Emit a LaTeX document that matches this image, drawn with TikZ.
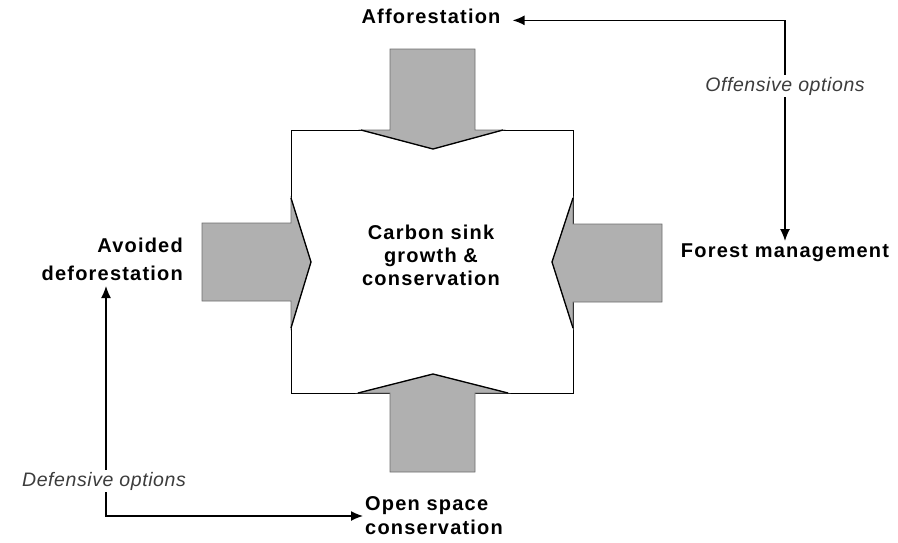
\documentclass[tikz,border=0pt]{standalone}
\usepackage{fontspec}
\setmainfont{Liberation Sans}
\newfontfamily\labelfont[LetterSpace=6]{Liberation Sans}
\newfontfamily\optionfont[LetterSpace=3]{Liberation Sans}
\usetikzlibrary{arrows.meta}

\definecolor{shaftgray}{RGB}{176,176,176}
\definecolor{edgegray}{RGB}{110,110,110}
\definecolor{optgray}{RGB}{60,60,60}

\begin{document}
\begin{tikzpicture}[x=1pt,y=-1pt,
  lbl/.style={font=\labelfont\bfseries\fontsize{20}{23}\selectfont, inner sep=2pt},
  opt/.style={font=\optionfont\itshape\fontsize{19.5}{22}\selectfont, text=optgray,
              fill=white, inner sep=1.5pt},
  dual/.style={line width=1.4pt,
               {Latex[length=12pt,width=10pt]}-{Latex[length=12pt,width=10pt]}},
  fat/.style={fill=shaftgray, draw=edgegray, line width=0.7pt, line join=miter},
  headedge/.style={draw=black, line width=1.3pt, line join=miter}]

% page frame
\useasboundingbox (0,0) rectangle (898,542);

% central square
\draw[line width=0.9pt] (291,130) rectangle (573,393);

% broad arrow from the top
\path[fat] (390,49) -- (475,49) -- (475,130) -- (503,130) -- (433,149)
           -- (361,130) -- (390,130) -- cycle;
\draw[headedge] (361,130) -- (433,149) -- (503,130);

% broad arrow from the bottom
\path[fat] (390,472) -- (475,472) -- (475,393) -- (508,393) -- (433,374)
           -- (358,393) -- (390,393) -- cycle;
\draw[headedge] (358,393) -- (433,374) -- (508,393);

% broad arrow from the left
\path[fat] (202,223) -- (291,223) -- (291,198) -- (311,262) -- (291,328)
           -- (291,301) -- (202,301) -- cycle;
\draw[headedge] (291,198) -- (311,262) -- (291,328);

% broad arrow from the right
\path[fat] (662,224) -- (573,224) -- (573,198) -- (552,262) -- (573,328)
           -- (573,302) -- (662,302) -- cycle;
\draw[headedge] (573,198) -- (552,262) -- (573,328);

% labels
\node[lbl, align=center] (sink) at (431,255)
  {Carbon sink\\growth \&\\conservation};
\node[lbl, anchor=base] (aff) at (431,23) {Afforestation};
\node[lbl, anchor=base] (fm) at (785,257) {Forest management};
\node[lbl, align=right, anchor=east, font=\labelfont\bfseries\fontsize{20}{28}\selectfont]
  (avoid) at (185,259) {Avoided\\deforestation};
\node[lbl, align=left, anchor=west, font=\labelfont\bfseries\fontsize{20}{24}\selectfont]
  (open) at (363,516) {Open space\\conservation};

% option links
\coordinate (dtip) at (106,286);
\draw[dual] ([xshift=10pt]aff.mid east) -| (fm.north);
\draw[dual] (dtip) |- (open.west);

\node[opt] (offensive) at (785,86) {Offensive options};
\node[opt] (defensive) at (104,481) {Defensive options};
\end{tikzpicture}
\end{document}
